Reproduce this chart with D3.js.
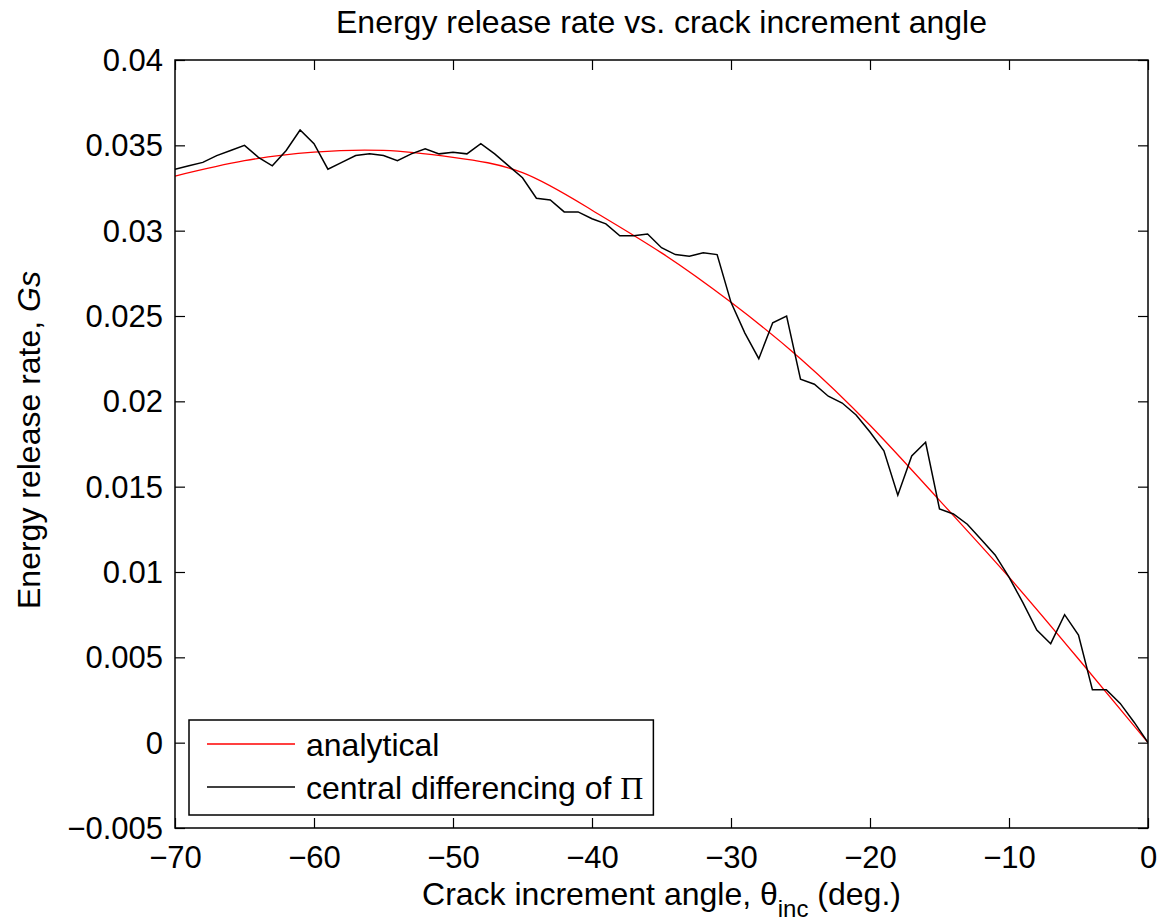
<!DOCTYPE html>
<html>
<head>
<meta charset="utf-8">
<script src="https://cdn.jsdelivr.net/npm/d3@7"></script>
<style>
  body { margin: 0; background: #fff; }
  svg text { font-family: "Liberation Sans", Arial, Helvetica, sans-serif; fill: #000; }
</style>
</head>
<body>
<div id="chart"></div>
<script>
// angles (deg) for the numerical curve, one per degree
const angles = d3.range(-70, 1, 1);
// central differencing of Pi
const centralDiff = [
  0.0336, 0.0338, 0.0340, 0.0344, 0.0347, 0.0350, 0.0343, 0.0338, 0.0347, 0.0359,
  0.0351, 0.0336, 0.0340, 0.0344, 0.0345, 0.0344, 0.0341, 0.0345, 0.0348, 0.0345,
  0.0346, 0.0345, 0.0351, 0.0345, 0.0338, 0.0331, 0.0319, 0.0318, 0.0311, 0.0311,
  0.0307, 0.0304, 0.0297, 0.0297, 0.0298, 0.0290, 0.0286, 0.0285, 0.0287, 0.0286,
  0.0258, 0.0240, 0.0225, 0.0246, 0.0250, 0.0213, 0.0210, 0.0203, 0.0199, 0.0192,
  0.0182, 0.0171, 0.0145, 0.0168, 0.0176, 0.0137, 0.0134, 0.0128, 0.0119, 0.0110,
  0.0097, 0.0082, 0.0066, 0.0058, 0.0075, 0.0063, 0.0031, 0.0031, 0.0023, 0.0012,
  0.0000
];
// analytical curve, read every 5 degrees
const analyticAngles = [-70, -65, -60, -55, -50, -45, -40, -35, -30, -25, -20, -15, -10, -5, 0];
const analytical = [0.0332, 0.0341, 0.0346, 0.0347, 0.0343, 0.0334, 0.0312, 0.0287, 0.0258, 0.0225, 0.0186, 0.0142, 0.0097, 0.0049, 0.0];

const xTicks = [-70, -60, -50, -40, -30, -20, -10, 0];
const yTicks = [-0.005, 0, 0.005, 0.01, 0.015, 0.02, 0.025, 0.03, 0.035, 0.04];

const width = 1171, height = 923;
const mLeft = 175, mRight = 1148, mTop = 60, mBottom = 828;
const fs = 32, tickFs = 31;

const svg = d3.select("#chart").append("svg")
    .attr("width", width)
    .attr("height", height);

const x = d3.scaleLinear().domain([-70, 0]).range([mLeft, mRight]);
const y = d3.scaleLinear().domain([-0.005, 0.04]).range([mBottom, mTop]);

const fmt = v => String(+v.toFixed(3)).replace("-", "\u2212");

// clip the curves to the axes box
svg.append("clipPath").attr("id", "clip")
  .append("rect").attr("x", mLeft).attr("y", mTop).attr("width", mRight - mLeft).attr("height", mBottom - mTop);

svg.append("path")
    .datum(analyticAngles.map((a, i) => [a, analytical[i]]))
    .attr("clip-path", "url(#clip)")
    .attr("fill", "none")
    .attr("stroke", "#f00")
    .attr("stroke-width", 1.3)
    .attr("d", d3.line().x(d => x(d[0])).y(d => y(d[1])).curve(d3.curveNatural));

svg.append("path")
    .datum(angles.map((a, i) => [a, centralDiff[i]]))
    .attr("clip-path", "url(#clip)")
    .attr("fill", "none")
    .attr("stroke", "#000")
    .attr("stroke-width", 1.5)
    .attr("d", d3.line().x(d => x(d[0])).y(d => y(d[1])));

// axes, ticks pointing inward like MATLAB
const tickLen = 10;
const gx = svg.append("g").attr("transform", `translate(0,${mBottom})`)
    .call(d3.axisBottom(x).tickValues(xTicks).tickSize(-tickLen).tickFormat(fmt));
const gxTop = svg.append("g").attr("transform", `translate(0,${mTop})`)
    .call(d3.axisTop(x).tickValues(xTicks).tickSize(-tickLen).tickFormat(""));
const gy = svg.append("g").attr("transform", `translate(${mLeft},0)`)
    .call(d3.axisLeft(y).tickValues(yTicks).tickSize(-tickLen).tickPadding(12).tickFormat(fmt));
const gyRight = svg.append("g").attr("transform", `translate(${mRight},0)`)
    .call(d3.axisRight(y).tickValues(yTicks).tickSize(-tickLen).tickFormat(""));

[gx, gxTop, gy, gyRight].forEach(g => {
  g.select(".domain").remove();
  g.selectAll(".tick line").attr("stroke", "#000").attr("stroke-width", 1.2);
  g.selectAll(".tick text").attr("font-size", tickFs).attr("font-family", null);
});
gx.selectAll(".tick text").attr("y", 40).attr("dy", 0);
gy.selectAll(".tick text").attr("dy", "0.34em");

// box
svg.append("rect")
    .attr("x", mLeft).attr("y", mTop)
    .attr("width", mRight - mLeft).attr("height", mBottom - mTop)
    .attr("fill", "none").attr("stroke", "#000").attr("stroke-width", 1.5);

// title
svg.append("text")
    .attr("x", (mLeft + mRight) / 2).attr("y", 33)
    .attr("text-anchor", "middle").attr("font-size", fs)
    .text("Energy release rate vs. crack increment angle");

// x label
const xl = svg.append("text")
    .attr("x", (mLeft + mRight) / 2).attr("y", 905)
    .attr("text-anchor", "middle").attr("font-size", fs);
xl.append("tspan").text("Crack increment angle, \u03b8");
xl.append("tspan").attr("font-size", 24).attr("dy", 12).text("inc");
xl.append("tspan").attr("dy", -12).text(" (deg.)");

// y label
const yl = svg.append("text")
    .attr("transform", `translate(40,${(mTop + mBottom) / 2 - 4}) rotate(-90)`)
    .attr("text-anchor", "middle").attr("font-size", fs);
yl.append("tspan").text("Energy release rate, ");
yl.append("tspan").attr("font-style", "italic").text("Gs");

// legend
const lg = svg.append("g");
const lgBox = lg.append("rect")
    .attr("x", 189).attr("y", 720).attr("height", 95)
    .attr("fill", "#fff").attr("stroke", "#000").attr("stroke-width", 1.5);
const items = [
  { label: "analytical", color: "#f00", w: 1.3 },
  { label: "central differencing of ", color: "#000", w: 1.5, pi: true }
];
let maxRight = 0;
items.forEach((it, i) => {
  const yy = 744 + i * 43;
  lg.append("line").attr("x1", 207).attr("x2", 295).attr("y1", yy).attr("y2", yy)
    .attr("stroke", it.color).attr("stroke-width", it.w);
  const t = lg.append("text").attr("x", 306).attr("y", yy).attr("dy", "0.36em").attr("font-size", fs);
  t.append("tspan").text(it.label);
  if (it.pi) t.append("tspan").attr("font-family", "'Liberation Serif', 'Times New Roman', serif").text("\u03a0");
  maxRight = Math.max(maxRight, t.node().getBBox().x + t.node().getBBox().width);
});
lgBox.attr("width", maxRight + 10 - 189);
</script>
</body>
</html>
